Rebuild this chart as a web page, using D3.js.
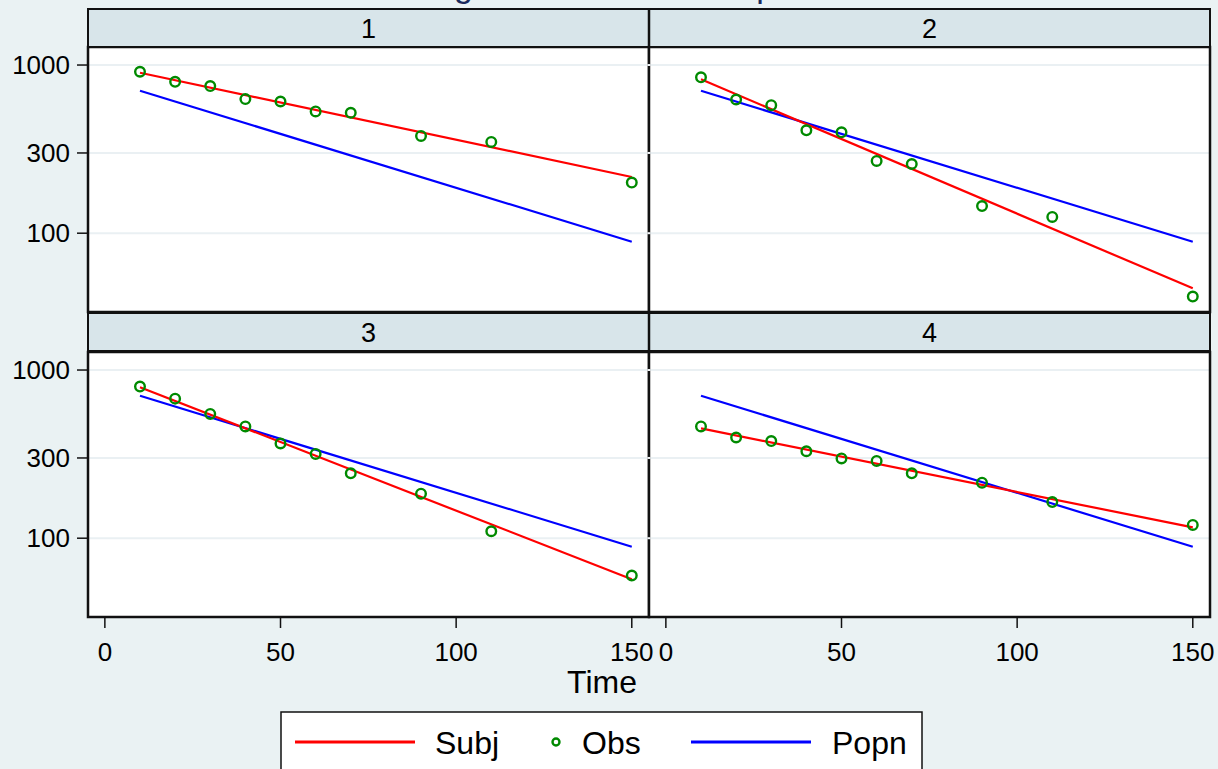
<!DOCTYPE html>
<html>
  <head>
    <meta charset="utf-8" />

    <script src="https://d3js.org/d3.v7.min.js"></script>

    <style>
      body { margin: 0; background: #eaf2f3; }
      text { font-family: "Liberation Sans", Arial, sans-serif; fill: #000000; }
      .border { fill: none; stroke: #111111; stroke-width: 2.5; }
      .strip { fill: #d8e5ea; stroke: #111111; stroke-width: 2; }
      .grid { stroke: #eaf0f3; stroke-width: 2; }
      .ytick, .xtick { stroke: #111111; stroke-width: 1.5; }
      .subj { stroke: #ff0000; stroke-width: 2.2; fill: none; }
      .popn { stroke: #0000ff; stroke-width: 2.2; fill: none; }
      .obs { stroke: #008a00; stroke-width: 2.4; fill: none; }
    </style>

  </head>
  <body>

    <div id="chart">
    </div>
    <script type="text/javascript">

      var w = 1218, h = 769;

      // data
      var subjects = ["1", "2", "3", "4"];
      var times = [10, 20, 30, 40, 50, 60, 70, 90, 110, 150];
      var obs1 = [912, 795, 750, 627, 607, 530, 520, 379, 349, 200];
      var obs2 = [845, 624, 577, 409, 398, 269, 258, 145, 125, 42];
      var obs3 = [797, 676, 548, 462, 366, 317, 243, 184, 110, 60];
      var obs4 = [462, 397, 378, 329, 298, 288, 243, 214, 164, 120];
      var fitTimes = [10, 150];
      var subjFit = [[900, 216], [822, 47], [791, 57], [450, 116]];
      var popnFit = [703, 89];
      var xTicks = [0, 50, 100, 150];
      var yTicks = [100, 300, 1000];
      var legendLabels = ["Subj", "Obs", "Popn"];

      var obsAll = [obs1, obs2, obs3, obs4];

      // panel layout
      var colX = [88, 649], panelW = 561;
      var stripY = [9, 313], stripH = 38;
      var plotY = [47, 352], plotH = 265;

      var x = d3.scaleLinear().domain([-4.8, 154.9]).range([0, panelW]);
      var y = d3.scaleLog().domain([34, 1280]).range([plotH, 0]);

      var svg = d3.select("#chart").append("svg")
        .attr("width", w).attr("height", h);

      svg.append("rect").attr("width", w).attr("height", h).attr("fill", "#eaf2f3");

      // title, mostly above the visible area
      svg.append("text").attr("x", 609).attr("y", -3)
        .attr("text-anchor", "middle").style("font-size", "34px").style("fill", "#1a2a5c")
        .text("Semilog Time Course Comparison");

      var line = d3.line().x(function(d) { return x(d[0]); }).y(function(d) { return y(d[1]); });

      subjects.forEach(function(s, i) {
        var col = i % 2, row = Math.floor(i / 2);
        var g = svg.append("g")
          .attr("transform", "translate(" + colX[col] + "," + plotY[row] + ")");

        g.append("rect").attr("width", panelW).attr("height", plotH).attr("fill", "#ffffff");

        // strip header
        svg.append("rect").attr("class", "strip")
          .attr("x", colX[col]).attr("y", stripY[row])
          .attr("width", panelW).attr("height", stripH);
        svg.append("text").attr("x", colX[col] + panelW / 2).attr("y", stripY[row] + stripH / 2 + 1)
          .attr("text-anchor", "middle").attr("dominant-baseline", "central")
          .style("font-size", "27px").text(s);

        g.selectAll("line.grid").data(yTicks).enter().append("line")
          .attr("class", "grid")
          .attr("x1", 0).attr("x2", panelW)
          .attr("y1", function(d) { return y(d); }).attr("y2", function(d) { return y(d); });

        g.append("path").attr("class", "popn")
          .attr("d", line(fitTimes.map(function(t, k) { return [t, popnFit[k]]; })));
        g.append("path").attr("class", "subj")
          .attr("d", line(fitTimes.map(function(t, k) { return [t, subjFit[i][k]]; })));

        g.selectAll("circle.obs").data(obsAll[i]).enter().append("circle")
          .attr("class", "obs")
          .attr("cx", function(d, k) { return x(times[k]); })
          .attr("cy", function(d) { return y(d); })
          .attr("r", 4.8);

        g.append("rect").attr("class", "border").attr("width", panelW).attr("height", plotH);

        // the gridlines cut through the middle divider in the original
        var edge = col == 0 ? panelW : 0;
        g.selectAll("line.gridcut").data(yTicks).enter().append("line")
          .attr("class", "grid gridcut")
          .attr("x1", edge - 1.5).attr("x2", edge + 1.5)
          .attr("y1", function(d) { return y(d); }).attr("y2", function(d) { return y(d); })
          .style("stroke", "#f4f7f9");

        // y axis on the left column
        if (col == 0) {
          g.selectAll("line.ytick").data(yTicks).enter().append("line")
            .attr("class", "ytick").attr("x1", -11).attr("x2", 0)
            .attr("y1", function(d) { return y(d); }).attr("y2", function(d) { return y(d); });
          g.selectAll("text.ylab").data(yTicks).enter().append("text")
            .attr("class", "ylab")
            .attr("x", -18).attr("y", function(d) { return y(d); })
            .attr("text-anchor", "end").attr("dominant-baseline", "central")
            .style("font-size", "26px").text(function(d) { return d; });
        }

        // x axis on the bottom row
        if (row == 1) {
          g.selectAll("line.xtick").data(xTicks).enter().append("line")
            .attr("class", "xtick").attr("y1", plotH).attr("y2", plotH + 11)
            .attr("x1", function(d) { return x(d); }).attr("x2", function(d) { return x(d); });
          g.selectAll("text.xlab").data(xTicks).enter().append("text")
            .attr("class", "xlab")
            .attr("x", function(d) { return x(d); }).attr("y", plotH + 35)
            .attr("text-anchor", "middle").attr("dominant-baseline", "central")
            .style("font-size", "26px").text(function(d) { return d; });
        }
      });

      // divider between columns
      svg.append("line").attr("x1", 649).attr("x2", 649).attr("y1", stripY[0]).attr("y2", stripY[0] + stripH)
        .attr("stroke", "#111111").attr("stroke-width", 2.5);
      svg.append("line").attr("x1", 649).attr("x2", 649).attr("y1", stripY[1]).attr("y2", stripY[1] + stripH)
        .attr("stroke", "#111111").attr("stroke-width", 2.5);

      svg.append("text").attr("x", 602).attr("y", 682)
        .attr("text-anchor", "middle").attr("dominant-baseline", "central")
        .style("font-size", "32px").text("Time");

      // legend
      var lg = svg.append("g");
      lg.append("rect").attr("x", 281).attr("y", 712).attr("width", 641).attr("height", 80)
        .attr("fill", "#ffffff").attr("stroke", "#111111").attr("stroke-width", 1.5);
      lg.append("line").attr("class", "subj").attr("x1", 295).attr("x2", 415)
        .attr("y1", 742).attr("y2", 742).style("stroke-width", 3);
      lg.append("circle").attr("class", "obs").attr("cx", 556).attr("cy", 742).attr("r", 3.5);
      lg.append("line").attr("class", "popn").attr("x1", 691).attr("x2", 811)
        .attr("y1", 742).attr("y2", 742).style("stroke-width", 3);
      var lx = [435, 582, 832];
      legendLabels.forEach(function(t, k) {
        lg.append("text").attr("x", lx[k]).attr("y", 743)
          .attr("dominant-baseline", "central").style("font-size", "32px").text(t);
      });

    </script>


  </body>

</html>
